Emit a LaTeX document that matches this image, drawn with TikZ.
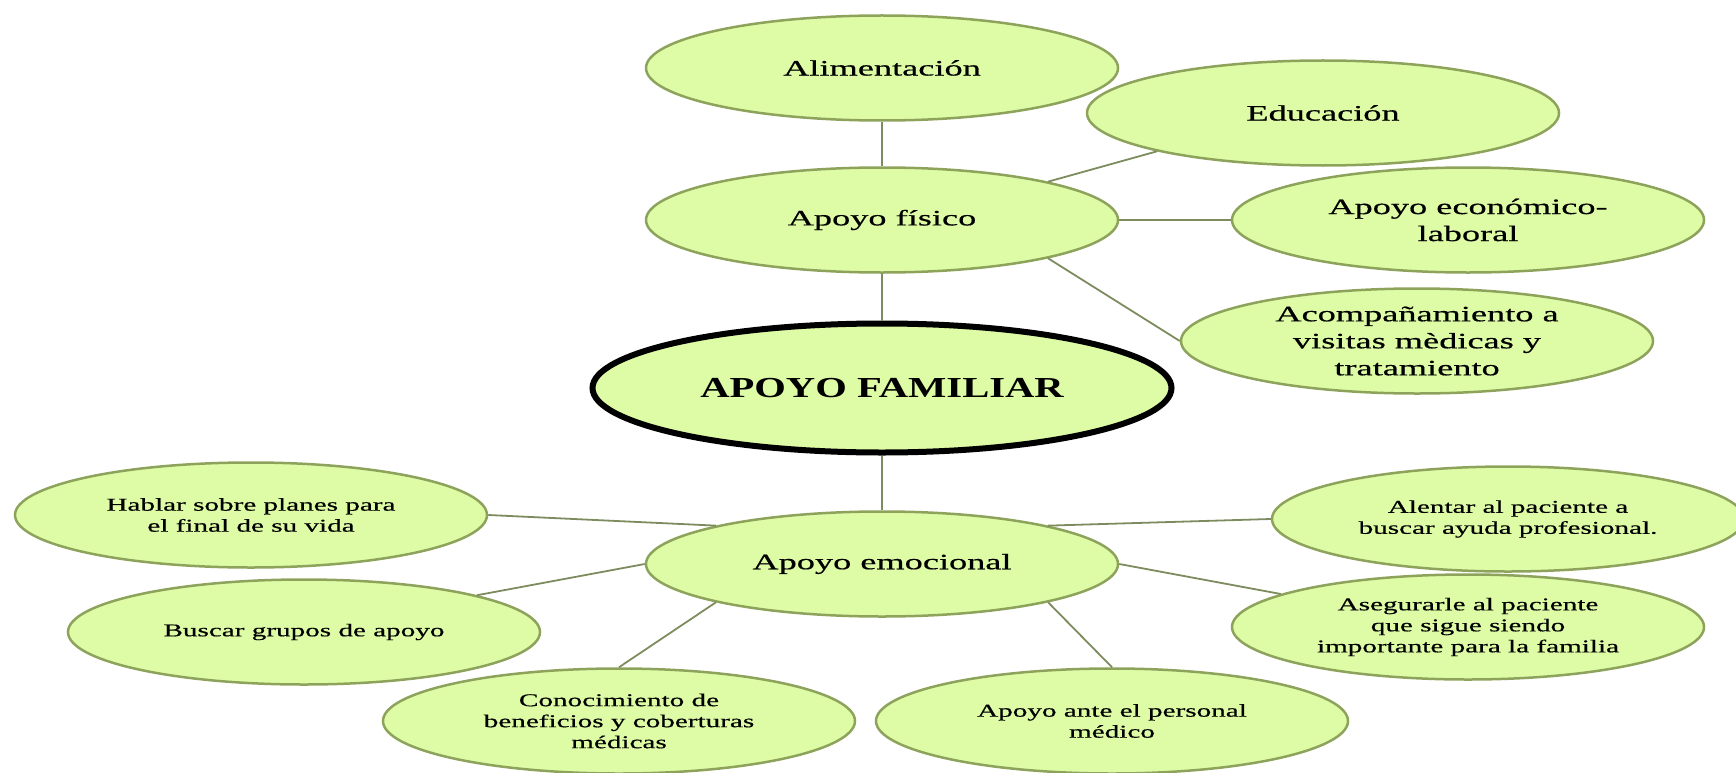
\documentclass[tikz,border=0pt]{standalone}
\usepackage{fontspec}
\setmainfont{Liberation Serif}
\newfontfamily\widefont[FakeStretch=1.65, FakeBold=0.5]{Liberation Serif}
\newfontfamily\leaffont[FakeStretch=1.62, FakeBold=0.5]{Liberation Serif}
\newfontfamily\rootfont[FakeStretch=1.4]{Liberation Serif}
\usepackage{tikz}
\usetikzlibrary{shapes.geometric, positioning}
\definecolor{ovalfill}{HTML}{DEFCA6}
\definecolor{ovaldraw}{HTML}{8DA35C}
\definecolor{linkcol}{HTML}{7D8C5E}

\begin{document}
\begin{tikzpicture}[x=1pt, y=-1pt,
  oval/.style={ellipse, draw=ovaldraw, line width=2.5pt, fill=ovalfill,
               minimum width=472pt, minimum height=105pt, inner sep=0pt, align=center},
  branch/.style={oval, font=\widefont\fontsize{22}{27}\selectfont},
  leaf/.style={oval, font=\leaffont\fontsize{18}{21}\selectfont},
  root/.style={oval, draw=black, line width=6pt, minimum width=579pt, minimum height=129pt,
               font=\rootfont\bfseries\fontsize{29}{34}\selectfont},
  link/.style={draw=linkcol, line width=1.8pt}]
\useasboundingbox (0,0) rectangle (1736,773);
%
\node[root]   (fam)  at (882,388)  {APOYO FAMILIAR};
\node[branch] (fis)  at (882,220)  {Apoyo f\'isico};
\node[branch] (alim) at (882,68)   {Alimentaci\'on};
\node[branch] (edu)  at (1323,113) {Educaci\'on};
\node[branch] (eco)  at (1468,220) {Apoyo econ\'omico-\\laboral};
\node[branch] (acom) at (1417,341) {Acompa\~namiento a\\visitas m\`edicas y\\tratamiento};
\node[branch] (emo)  at (882,564)  {Apoyo emocional};
\node[leaf]   (hab)  at (251,515)  {Hablar sobre planes para\\el final de su vida};
\node[leaf]   (bus)  at (304,632)  {Buscar grupos de apoyo};
\node[leaf]   (con)  at (619,721)  {Conocimiento de\\beneficios y coberturas\\m\'edicas};
\node[leaf]   (ant)  at (1112,721) {Apoyo ante el personal\\m\'edico};
\node[leaf]   (ale)  at (1508,519) {Alentar al paciente a\\buscar ayuda profesional.};
\node[leaf]   (ase)  at (1468,627) {Asegurarle al paciente\\que sigue siendo\\importante para la familia};
%
\draw[link] (alim.south) -- (fis.north);
\draw[link] (fis.13) -- (edu.193);
\draw[link] (fis.east) -- (eco.west);
\draw[link] (fis.-13) -- (acom.west);
\draw[link] (fis.south) -- (fam.north);
\draw[link] (fam.south) -- (emo.north);
\draw[link] (emo.167) -- (hab.east);
\draw[link] (emo.west) -- (bus.12);
\draw[link] (emo.193) -- (con.north);
\draw[link] (emo.-13) -- (ant.north);
\draw[link] (emo.13) -- (ale.west);
\draw[link] (emo.east) -- (ase.170);
%
\end{tikzpicture}
\end{document}
